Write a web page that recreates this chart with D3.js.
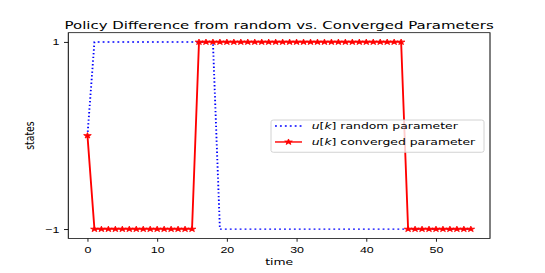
<!DOCTYPE html>
<html>
<head>
<meta charset="utf-8">
<script src="https://cdnjs.cloudflare.com/ajax/libs/d3/7.8.5/d3.min.js"></script>
<style>
  body { margin: 0; background: #fff; }
  svg { display: block; font-family: "DejaVu Sans", sans-serif; }
  .tick text { font-size: 12.4px; fill: #000; }
  .tick line { stroke: #000; stroke-width: 1; }
</style>
</head>
<body>
<div class="chart"></div>
<script>
// data
var steps = [0, 1, 2, 3, 4, 5, 6, 7, 8, 9, 10, 11, 12, 13, 14, 15, 16, 17, 18, 19,
  20, 21, 22, 23, 24, 25, 26, 27, 28, 29, 30, 31, 32, 33, 34, 35, 36, 37, 38, 39,
  40, 41, 42, 43, 44, 45, 46, 47, 48, 49, 50, 51, 52, 53, 54, 55];
var randomParam = [0,
  1, 1, 1, 1, 1, 1, 1, 1, 1, 1, 1, 1, 1, 1, 1, 1, 1, 1,
  -1, -1, -1, -1, -1, -1, -1, -1, -1, -1,
  -1, -1, -1, -1, -1, -1, -1, -1, -1, -1,
  -1, -1, -1, -1, -1, -1, -1, -1, -1, -1,
  -1, -1, -1, -1, -1, -1, -1];
var convergedParam = [0,
  -1, -1, -1, -1, -1, -1, -1, -1, -1, -1, -1, -1, -1, -1, -1,
  1, 1, 1, 1, 1, 1, 1, 1, 1, 1, 1, 1, 1, 1, 1,
  1, 1, 1, 1, 1, 1, 1, 1, 1, 1, 1, 1, 1, 1, 1,
  -1, -1, -1, -1, -1, -1, -1, -1, -1, -1];
var xTicks = [0, 10, 20, 30, 40, 50];
var yTicks = [-1, 1];
var seriesNames = ["random parameter", "converged parameter"];

// the picture is squeezed vertically, so draw in a taller box and let the viewBox squash it
var squash = 0.75;
var W = 545, H = 273 / squash;
var box = {left: 68.3, right: 490, top: 43.6, bottom: 318};

var svg = d3.select(".chart")
  .append("svg")
  .attr("width", 545)
  .attr("height", 273)
  .attr("viewBox", "0 0 " + W + " " + H)
  .attr("preserveAspectRatio", "none");

// scales (matplotlib 5% margins)
var x = d3.scaleLinear()
  .domain([-2.75, 57.75])
  .range([box.left, box.right]);
var y = d3.scaleLinear()
  .domain([-1.1, 1.1])
  .range([box.bottom, box.top]);

var pts = function(vals) {
  return steps.map(function(t, i) { return [t, vals[i]]; });
};
var line = d3.line()
  .x(function(d) { return x(d[0]); })
  .y(function(d) { return y(d[1]); });

// random parameter, dotted blue
svg.append("path")
  .datum(pts(randomParam))
  .attr("fill", "none")
  .attr("stroke", "#0000ff")
  .attr("stroke-width", 1.86)
  .attr("stroke-dasharray", "1.86,3.07")
  .attr("d", line);

// converged parameter, red with stars
svg.append("path")
  .datum(pts(convergedParam))
  .attr("fill", "none")
  .attr("stroke", "#ff0000")
  .attr("stroke-width", 1.86)
  .attr("stroke-linejoin", "round")
  .attr("d", line);

var star = d3.symbol().type(d3.symbolStar).size(18);
svg.append("g")
  .selectAll("path")
  .data(pts(convergedParam))
  .enter()
  .append("path")
  .attr("d", star)
  .attr("fill", "#ff0000")
  .attr("stroke", "#ff0000")
  .attr("stroke-width", 1)
  .attr("transform", function(d) {
    return "translate(" + x(d[0]) + "," + y(d[1]) + ")";
  });

// axes
var xAxis = svg.append("g")
  .attr("transform", "translate(0," + box.bottom + ")")
  .call(d3.axisBottom(x).tickValues(xTicks).tickSize(4.3).tickPadding(4.5).tickSizeOuter(0));
var yAxis = svg.append("g")
  .attr("transform", "translate(" + box.left + ",0)")
  .call(d3.axisLeft(y).tickValues(yTicks).tickSize(4.3).tickPadding(4.5).tickSizeOuter(0)
    .tickFormat(function(d) { return d < 0 ? "\u2212" + Math.abs(d) : d; }));
xAxis.select(".domain").remove();
yAxis.select(".domain").remove();
xAxis.selectAll(".tick text").attr("dy", "0.9em");

// frame
svg.append("rect")
  .attr("x", box.left)
  .attr("y", box.top)
  .attr("width", box.right - box.left)
  .attr("height", box.bottom - box.top)
  .attr("fill", "none")
  .attr("stroke", "#000")
  .attr("stroke-width", 1);

// labels
svg.append("text")
  .attr("x", (box.left + box.right) / 2)
  .attr("y", 38.2)
  .attr("text-anchor", "middle")
  .style("font-size", "14.95px")
  .text("Policy Difference from random vs. Converged Parameters");

svg.append("text")
  .attr("x", (box.left + box.right) / 2)
  .attr("y", 353.3)
  .attr("text-anchor", "middle")
  .style("font-size", "12.4px")
  .text("time");

svg.append("text")
  .attr("transform", "translate(33.5," + ((box.top + box.bottom) / 2) + ") rotate(-90)")
  .attr("text-anchor", "middle")
  .style("font-size", "12.4px")
  .text("states");

// legend
var legend = svg.append("g");
legend.append("rect")
  .attr("x", 271)
  .attr("y", 160)
  .attr("width", 213)
  .attr("height", 43)
  .attr("rx", 2.5)
  .attr("fill", "#fff")
  .attr("fill-opacity", 0.8)
  .attr("stroke", "#cccccc")
  .attr("stroke-width", 1);

var rows = [168, 189.3];
legend.append("line")
  .attr("x1", 275).attr("x2", 302)
  .attr("y1", rows[0]).attr("y2", rows[0])
  .attr("stroke", "#0000ff")
  .attr("stroke-width", 1.86)
  .attr("stroke-dasharray", "1.86,3.07");
legend.append("line")
  .attr("x1", 275).attr("x2", 302)
  .attr("y1", rows[1]).attr("y2", rows[1])
  .attr("stroke", "#ff0000")
  .attr("stroke-width", 1.86);
legend.append("path")
  .attr("d", star)
  .attr("fill", "#ff0000")
  .attr("stroke", "#ff0000")
  .attr("transform", "translate(288.5," + rows[1] + ")");

seriesNames.forEach(function(name, i) {
  var t = legend.append("text")
    .attr("x", 311.7)
    .attr("y", rows[i])
    .attr("dy", "0.36em")
    .style("font-size", "12.4px");
  t.append("tspan").style("font-style", "italic").text("u");
  t.append("tspan").text("[");
  t.append("tspan").style("font-style", "italic").text("k");
  t.append("tspan").text("] " + name);
});
</script>
</body>
</html>
